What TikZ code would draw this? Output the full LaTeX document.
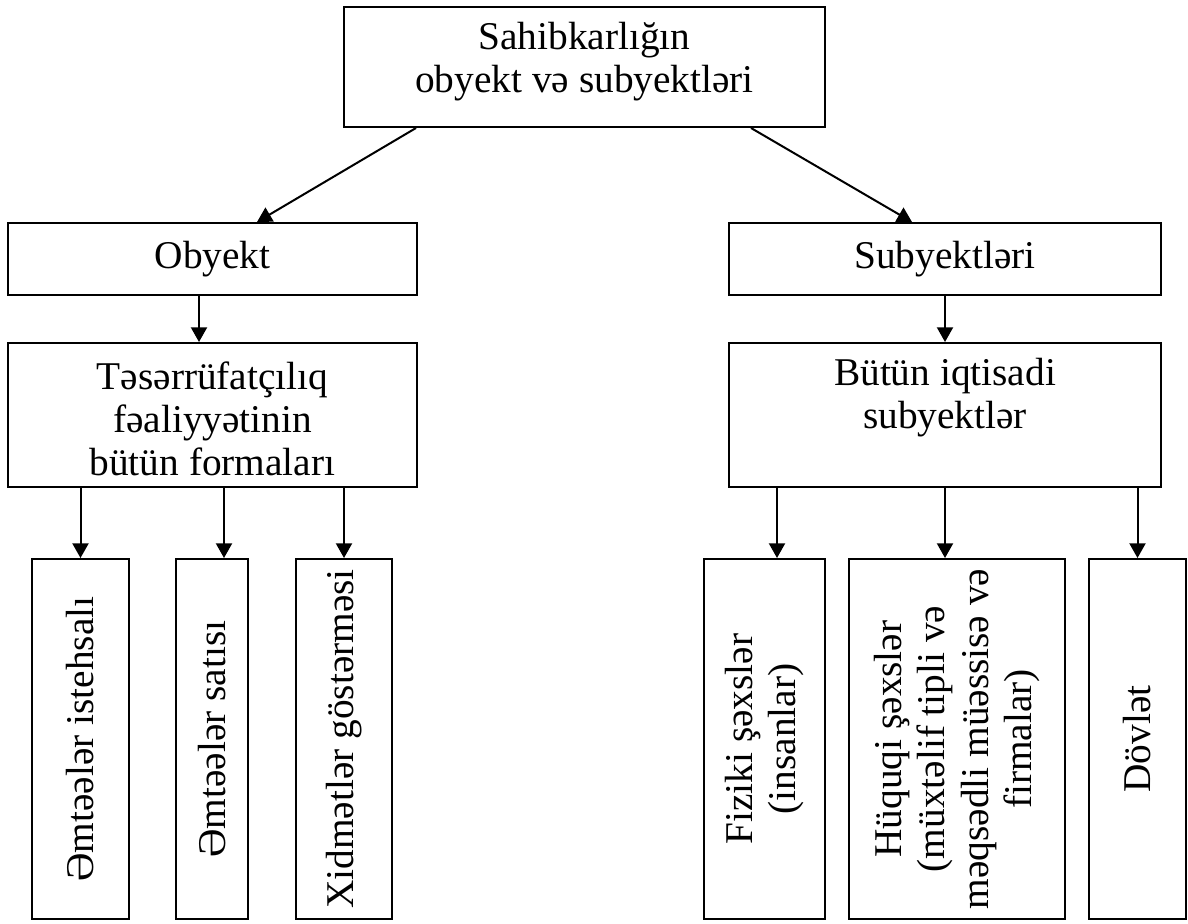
\documentclass[tikz,border=0pt]{standalone}
\usepackage{fontspec}
\setmainfont{Liberation Serif}
\usetikzlibrary{arrows.meta}
\newcommand\diagfs{\fontsize{29.5}{32.3}\selectfont}
\begin{document}
\begin{tikzpicture}[x=0.75pt,y=-0.75pt,
  box/.style={draw, line width=1.5pt, inner sep=0pt, align=center, font=\diagfs},
  htxt/.style={inner sep=0pt, align=center, font=\diagfs},
  vtxt/.style={inner sep=0pt, align=center, font=\diagfs, rotate=90},
  arr/.style={line width=1.5pt, -{Triangle[length=11pt,width=12pt]}}]
\useasboundingbox (0,0) rectangle (1188,924);
% top level
\node[box, minimum width=481*0.75pt, minimum height=120*0.75pt] (top) at (584.5,67) {};
\node[htxt] (topt) at (584.5,62) {Sahibkarlığın\\obyekt və subyektləri};
% second level
\node[box, minimum width=409*0.75pt, minimum height=72*0.75pt] (obj) at (212.5,259) {Obyekt};
\node[box, minimum width=432*0.75pt, minimum height=72*0.75pt] (sub) at (945,259) {Subyektləri};
% third level
\node[box, minimum width=409*0.75pt, minimum height=144*0.75pt] (tes) at (212.5,415) {};
\node[htxt] (test) at (212.5,419) {Təsərrüfatçılıq\\fəaliyyətinin\\bütün formaları};
\node[box, minimum width=432*0.75pt, minimum height=144*0.75pt] (but) at (945,415) {};
\node[htxt] (butt) at (945,398) {Bütün iqtisadi\\subyektlər};
% bottom boxes
\node[box, minimum width=97*0.75pt, minimum height=360*0.75pt] (e1) at (80.5,739) {};
\node[box, minimum width=72*0.75pt, minimum height=360*0.75pt] (e2) at (212,739) {};
\node[box, minimum width=96*0.75pt, minimum height=360*0.75pt] (e3) at (344,739) {};
\node[box, minimum width=121*0.75pt, minimum height=360*0.75pt] (f1) at (764.5,739) {};
\node[box, minimum width=216*0.75pt, minimum height=360*0.75pt] (f2) at (957,739) {};
\node[box, minimum width=97*0.75pt, minimum height=360*0.75pt] (f3) at (1137.5,739) {};
\node[vtxt] (e1t) at (e1) {Əmtəələr istehsalı};
\node[vtxt] (e2t) at (e2) {Əmtəələr satısı};
\node[vtxt] (e3t) at (e3) {Xidmətlər göstərməsi};
\node[vtxt] (f1t) at (f1) {Fiziki şəxslər\\(insanlar)};
\node[vtxt] (f2t) at (f2) {Hüquqi şəxslər\\(müxtəlif tipli və\\məqsədli müəssisə və\\firmalar)};
\node[vtxt] (f3t) at (f3) {Dövlət};
% connector end points
\coordinate (t1) at ([xshift=73*0.75pt]top.south west);
\coordinate (t2) at ([xshift=408*0.75pt]top.south west);
\coordinate (o1) at ([xshift=250*0.75pt]obj.north west);
\coordinate (s1) at ([xshift=184*0.75pt]sub.north west);
\coordinate (ob) at ([xshift=192*0.75pt]obj.south west);
\coordinate (tb) at ([xshift=192*0.75pt]tes.north west);
\coordinate (a1) at (e1.north);
\coordinate (a2) at ([xshift=12*0.75pt]e2.north);
\coordinate (a3) at (e3.north);
\coordinate (b1) at ([xshift=12.5*0.75pt]f1.north);
\coordinate (b2) at ([xshift=-12*0.75pt]f2.north);
\coordinate (b3) at (f3.north);
% connectors
\draw[arr] (t1) -- (o1);
\draw[arr] (t2) -- (s1);
\draw[arr] (ob) -- (tb);
\draw[arr] (sub.south) -- (but.north);
\draw[arr] (tes.south -| a1) -- (a1);
\draw[arr] (tes.south -| a2) -- (a2);
\draw[arr] (tes.south -| a3) -- (a3);
\draw[arr] (but.south -| b1) -- (b1);
\draw[arr] (but.south -| b2) -- (b2);
\draw[arr] (but.south -| b3) -- (b3);
\end{tikzpicture}
\end{document}
